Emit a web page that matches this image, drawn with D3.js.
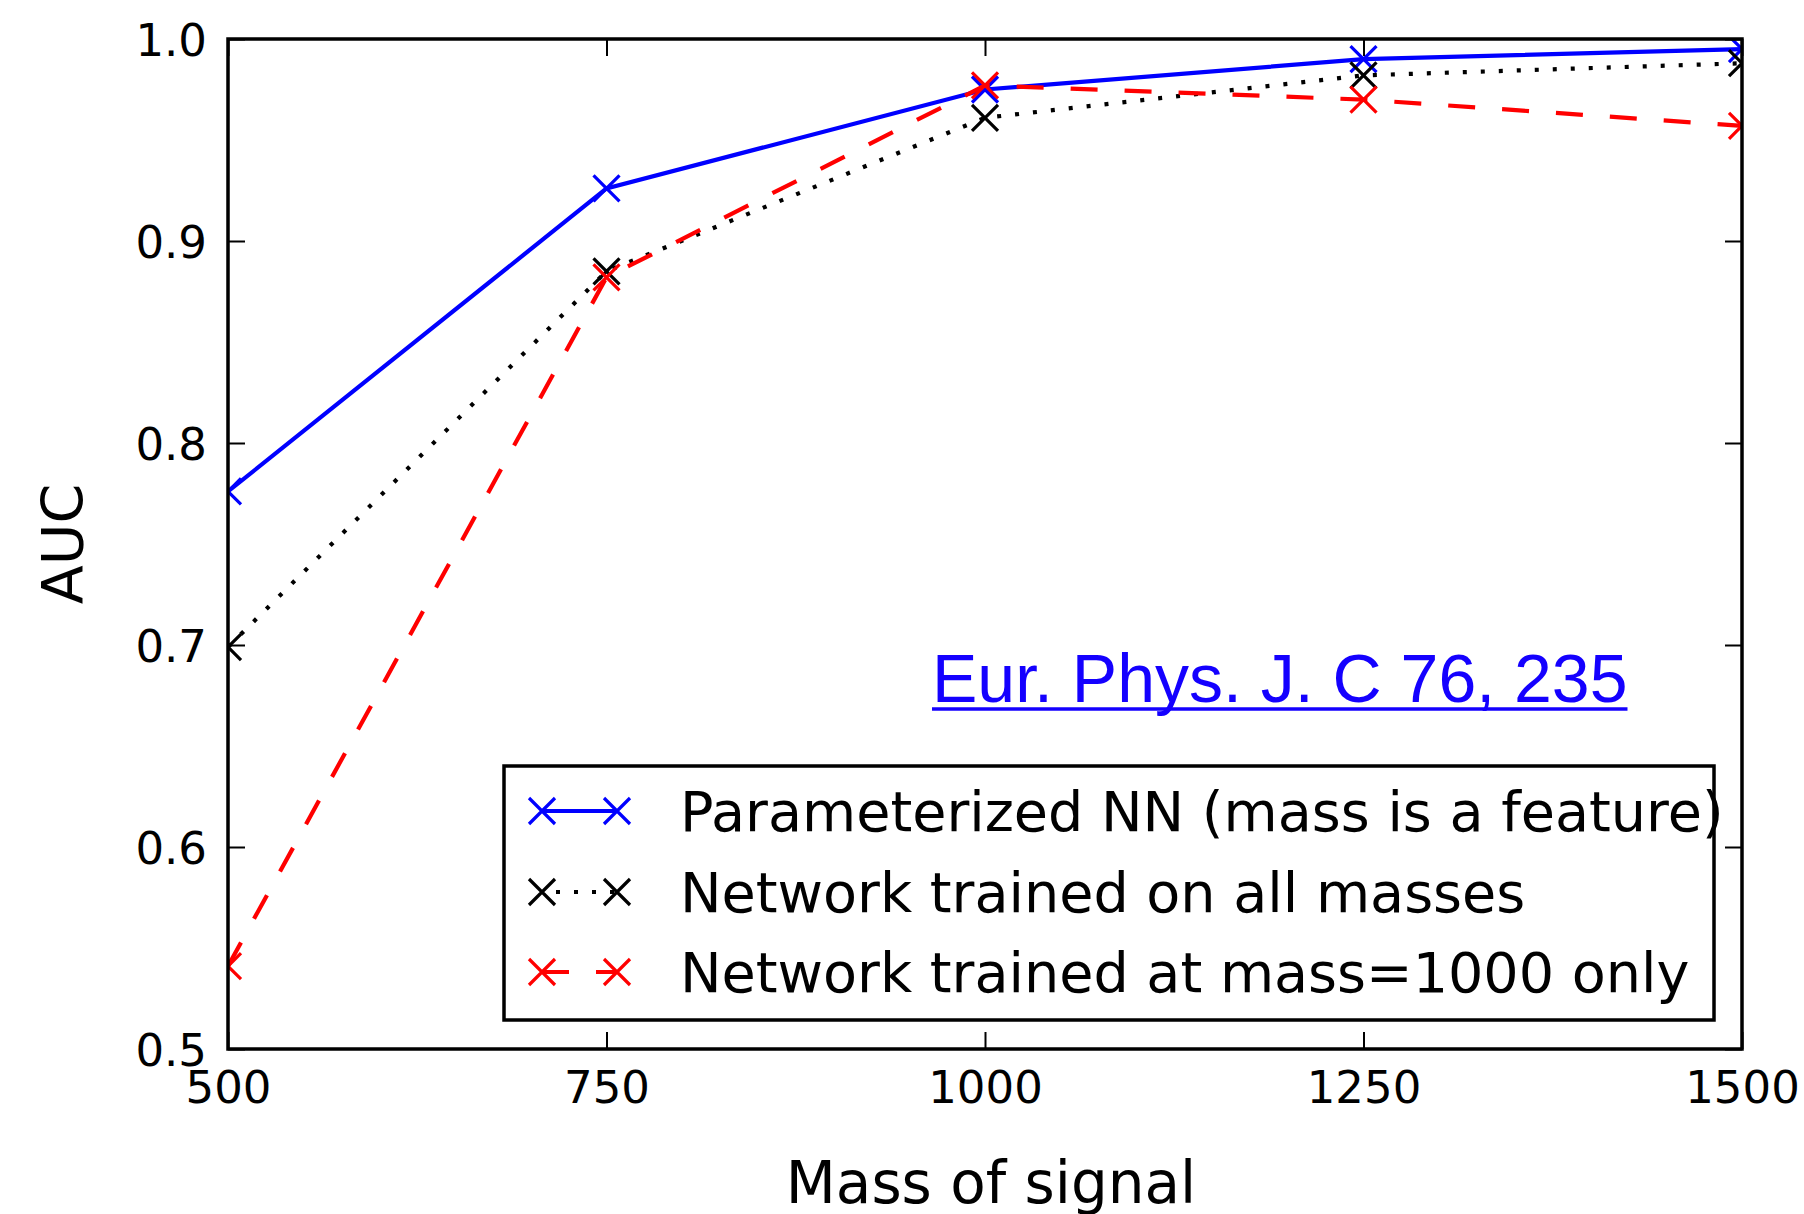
<!DOCTYPE html>
<html>
<head>
<meta charset="utf-8">
<script src="https://cdn.jsdelivr.net/npm/d3@7"></script>
<style>
  body { margin: 0; background: #fff; }
  text { font-family: "DejaVu Sans", sans-serif; }
</style>
</head>
<body>
<script>
// data
const masses = [500, 750, 1000, 1250, 1500];
const aucParam = [0.776, 0.926, 0.975, 0.990, 0.995];
const aucAll = [0.699, 0.885, 0.961, 0.982, 0.988];
const auc1000 = [0.541, 0.882, 0.977, 0.970, 0.957];
const xTicks = [500, 750, 1000, 1250, 1500];
const yTicks = [0.5, 0.6, 0.7, 0.8, 0.9, 1.0];
const legendLabels = ['Parameterized NN (mass is a feature)', 'Network trained on all masses', 'Network trained at mass=1000 only'];

// sizes
const svgWidth = 1804;
const svgHeight = 1214;
const margin = {top: 39, left: 228};
const plotWidth = 1514;
const plotHeight = 1010;
const tickLen = 17;

const series = [
    {values: aucParam, color: '#0000ff', dash: null, legendDash: null, label: legendLabels[0]},
    {values: aucAll, color: '#000000', dash: '4,14', legendDash: '4,14', label: legendLabels[1]},
    {values: auc1000, color: '#ff0000', dash: '27,27', legendDash: '27,27', label: legendLabels[2]}
];

const svg = d3.select('body')
              .append('svg')
              .attr('width', svgWidth)
              .attr('height', svgHeight);

svg.append('defs').append('clipPath')
   .attr('id', 'plot-clip')
   .append('rect')
   .attr('width', plotWidth)
   .attr('height', plotHeight);

const inner = svg.append('g')
                 .attr('transform', 'translate(' + margin.left + ',' + margin.top + ')');

const xScale = d3.scaleLinear().domain([500, 1500]).range([0, plotWidth]);
const yScale = d3.scaleLinear().domain([0.5, 1.0]).range([plotHeight, 0]);

// x marker path
function xMark(h) {
    return 'M' + (-h) + ',' + (-h) + 'L' + h + ',' + h + 'M' + (-h) + ',' + h + 'L' + h + ',' + (-h);
}

// lines + markers
const lineGen = d3.line()
                  .x((d, i) => xScale(masses[i]))
                  .y(d => yScale(d));

const plotArea = inner.append('g').attr('clip-path', 'url(#plot-clip)');

series.forEach(s => {
    plotArea.append('path')
            .attr('d', lineGen(s.values))
            .attr('fill', 'none')
            .attr('stroke', s.color)
            .attr('stroke-width', 4.2)
            .attr('stroke-dasharray', s.dash);
    plotArea.selectAll(null)
            .data(s.values)
            .enter()
            .append('path')
            .attr('transform', (d, i) => 'translate(' + xScale(masses[i]) + ',' + yScale(d) + ')')
            .attr('d', xMark(13))
            .attr('fill', 'none')
            .attr('stroke', s.color)
            .attr('stroke-width', 3.2);
});

// axes, ticks pointing inwards on all four sides
const fmtY = d3.format('.1f');
const xAxis = inner.append('g')
                   .attr('transform', 'translate(0,' + plotHeight + ')')
                   .call(d3.axisBottom(xScale).tickValues(xTicks).tickSize(-tickLen).tickPadding(22).tickFormat(d3.format('d')));
const yAxis = inner.append('g')
                   .call(d3.axisLeft(yScale).tickValues(yTicks).tickSize(-tickLen).tickPadding(21).tickFormat(fmtY));
inner.append('g')
     .call(d3.axisTop(xScale).tickValues(xTicks).tickSize(-tickLen).tickFormat(''));
inner.append('g')
     .attr('transform', 'translate(' + plotWidth + ',0)')
     .call(d3.axisRight(yScale).tickValues(yTicks).tickSize(-tickLen).tickFormat(''));

inner.selectAll('.domain').remove();
inner.selectAll('.tick line').attr('stroke', '#000').attr('stroke-width', 2);
inner.selectAll('.tick text')
     .attr('fill', '#000')
     .style('font-size', '45px')
     .style('font-family', '"DejaVu Sans", sans-serif');
yAxis.selectAll('.tick text').attr('dy', '0.36em');

// plot border
inner.append('rect')
     .attr('width', plotWidth)
     .attr('height', plotHeight)
     .attr('fill', 'none')
     .attr('stroke', '#000')
     .attr('stroke-width', 3.5);

// axis titles
svg.append('text')
   .attr('x', margin.left + plotWidth / 2 + 6)
   .attr('y', 1203)
   .attr('text-anchor', 'middle')
   .style('font-size', '58px')
   .text('Mass of signal');

svg.append('text')
   .attr('transform', 'translate(83,' + (margin.top + plotHeight / 2) + ') rotate(-90)')
   .attr('text-anchor', 'middle')
   .style('font-size', '57px')
   .text('AUC');

// citation
const cite = svg.append('text')
                .attr('x', 932)
                .attr('y', 702)
                .attr('fill', '#1400ff')
                .style('font-family', '"Liberation Sans", Arial, sans-serif')
                .style('font-size', '68px')
                .text('Eur. Phys. J. C 76, 235');
const citeLen = cite.node().getComputedTextLength();
svg.append('line')
   .attr('x1', 932)
   .attr('x2', 932 + citeLen)
   .attr('y1', 709)
   .attr('y2', 709)
   .attr('stroke', '#1400ff')
   .attr('stroke-width', 3.5);

// legend
const legend = svg.append('g');
legend.append('rect')
      .attr('x', 504)
      .attr('y', 766)
      .attr('width', 1210)
      .attr('height', 254)
      .attr('fill', '#fff')
      .attr('stroke', '#000')
      .attr('stroke-width', 3.5);

const rowY = [811, 892, 972];
series.forEach((s, i) => {
    const y = rowY[i];
    legend.append('line')
          .attr('x1', 542)
          .attr('x2', 617)
          .attr('y1', y)
          .attr('y2', y)
          .attr('stroke', s.color)
          .attr('stroke-width', 4.2)
          .attr('stroke-dasharray', s.legendDash)
          .attr('stroke-dashoffset', i === 1 ? -14 : 0);
    [542, 617].forEach(x => {
        legend.append('path')
              .attr('transform', 'translate(' + x + ',' + y + ')')
              .attr('d', xMark(13))
              .attr('fill', 'none')
              .attr('stroke', s.color)
              .attr('stroke-width', 3.2);
    });
    legend.append('text')
          .attr('x', 680)
          .attr('y', y)
          .attr('dy', '0.36em')
          .style('font-size', '55.6px')
          .text(s.label);
});
</script>
</body>
</html>
